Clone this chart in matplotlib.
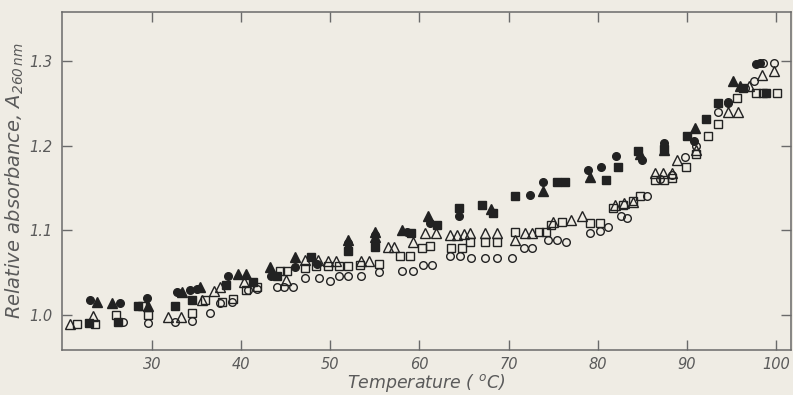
import matplotlib
matplotlib.use("Agg")
import matplotlib.pyplot as plt

# Melting profiles: relative absorbance at 260 nm vs temperature (°C)
fc_T = [23.0, 26.4, 29.4, 32.8, 34.3, 35.0, 38.5, 43.4, 46.0, 48.5, 52.0, 52.0, 55.0, 58.6, 61.2,
        64.5, 68.3, 72.4, 73.9, 78.9, 80.4, 82.1, 85.0, 87.5, 90.8, 94.6, 97.8, 98.2]
fc_A = [1.017, 1.014, 1.020, 1.027, 1.029, 1.030, 1.045, 1.046, 1.056, 1.060, 1.085, 1.078, 1.094, 1.098, 1.108,
        1.116, 1.120, 1.142, 1.157, 1.171, 1.174, 1.188, 1.183, 1.203, 1.205, 1.250, 1.296, 1.298]

ft_T = [23.8, 25.5, 29.6, 33.4, 35.4, 39.7, 40.6, 43.2, 46.0, 52.0, 55.0, 55.0, 58.0, 61.0,
        68.0, 73.9, 79.1, 84.8, 87.5, 90.9, 95.2, 96.0]
ft_A = [1.015, 1.014, 1.010, 1.027, 1.033, 1.048, 1.048, 1.056, 1.068, 1.088, 1.098, 1.092, 1.100, 1.116,
        1.125, 1.146, 1.163, 1.190, 1.195, 1.221, 1.276, 1.270]

fs_T = [22.9, 26.2, 28.4, 32.6, 34.5, 38.3, 41.3, 44.0, 47.8, 52.0, 55.0, 59.1, 62.0, 64.4, 67.0,
        68.3, 70.7, 75.4, 76.3, 80.9, 82.3, 84.5, 87.4, 90.0, 92.2, 93.5, 96.3, 98.9]
fs_A = [0.990, 0.991, 1.010, 1.010, 1.017, 1.035, 1.038, 1.045, 1.068, 1.075, 1.080, 1.097, 1.106, 1.126, 1.130,
        1.120, 1.140, 1.157, 1.157, 1.159, 1.175, 1.193, 1.196, 1.211, 1.231, 1.250, 1.268, 1.262]

oc_T = [26.7, 29.6, 32.6, 34.5, 36.5, 37.6, 39.0, 40.8, 41.8, 44.0, 44.8, 45.8, 47.2, 48.7, 50.0,
        51.0, 52.0, 53.5, 55.5, 58.0, 59.3, 60.4, 61.4, 63.4, 64.6, 65.8, 67.4, 68.7, 70.4, 71.7,
        72.6, 74.4, 75.4, 76.5, 79.1, 80.3, 81.2, 82.6, 83.3, 85.5, 87.0, 88.4, 89.8, 91.0, 93.5,
        94.6, 96.5, 97.5, 98.6, 99.8]
oc_A = [0.991, 0.990, 0.991, 0.992, 1.002, 1.014, 1.015, 1.029, 1.030, 1.032, 1.032, 1.032, 1.043, 1.043, 1.040,
        1.045, 1.045, 1.046, 1.050, 1.051, 1.051, 1.059, 1.059, 1.069, 1.069, 1.067, 1.067, 1.067, 1.067, 1.079,
        1.079, 1.088, 1.088, 1.086, 1.097, 1.099, 1.104, 1.116, 1.114, 1.140, 1.160, 1.165, 1.187, 1.200, 1.240,
        1.252, 1.268, 1.276, 1.298, 1.298]

ot_T = [20.8, 23.4, 31.8, 33.3, 35.6, 36.9, 37.6, 40.3, 45.0, 47.2, 48.6, 49.8, 50.6, 53.5, 54.3,
        56.5, 57.2, 59.3, 60.6, 61.9, 63.4, 64.2, 65.0, 65.7, 67.4, 68.7, 70.7, 71.8, 72.6, 75.0,
        77.0, 78.2, 82.0, 83.0, 84.0, 86.4, 87.3, 88.3, 88.9, 91.0, 94.6, 95.8, 97.0, 98.4, 99.8]
ot_A = [0.989, 0.998, 0.997, 0.997, 1.017, 1.028, 1.032, 1.039, 1.041, 1.065, 1.065, 1.063, 1.063, 1.063, 1.063,
        1.080, 1.080, 1.086, 1.097, 1.097, 1.094, 1.094, 1.095, 1.097, 1.097, 1.097, 1.088, 1.097, 1.097, 1.110,
        1.112, 1.116, 1.130, 1.132, 1.133, 1.167, 1.167, 1.167, 1.183, 1.195, 1.240, 1.240, 1.270, 1.284, 1.288]

os_T = [21.6, 23.6, 26.0, 28.9, 29.6, 34.5, 36.0, 37.8, 39.1, 40.5, 41.8, 44.4, 45.2, 47.2, 48.4,
        49.8, 51.0, 52.0, 53.3, 55.5, 57.8, 59.0, 60.3, 61.2, 63.5, 64.8, 65.7, 67.4, 68.7, 70.7,
        73.4, 74.2, 74.8, 76.0, 79.1, 80.3, 81.7, 82.8, 84.0, 84.8, 86.4, 87.5, 88.4, 89.9, 91.0,
        92.4, 93.5, 95.6, 97.8, 98.6, 100.1]
os_A = [0.989, 0.989, 1.000, 1.010, 1.000, 1.002, 1.017, 1.015, 1.018, 1.029, 1.032, 1.051, 1.051, 1.055, 1.057,
        1.057, 1.058, 1.058, 1.059, 1.060, 1.069, 1.069, 1.079, 1.081, 1.079, 1.079, 1.086, 1.086, 1.086, 1.098,
        1.098, 1.098, 1.106, 1.110, 1.108, 1.108, 1.126, 1.130, 1.134, 1.140, 1.159, 1.159, 1.161, 1.175, 1.190,
        1.211, 1.225, 1.256, 1.262, 1.262, 1.262]

x_ticks = [30, 40, 50, 60, 70, 80, 90, 100]
y_ticks = [1.0, 1.1, 1.2, 1.3]
y_ticklabels = ["1.0", "1.1", "1.2", "1.3"]

paper = "#efece4"
ink = "#222222"
grey = "#5a5a5a"

plt.rcParams["font.family"] = ["DejaVu Sans"]
plt.rcParams["mathtext.fontset"] = "custom"
plt.rcParams["mathtext.rm"] = "DejaVu Sans:italic"
plt.rcParams["mathtext.it"] = "DejaVu Sans:italic"

fig = plt.figure(figsize=(7.93, 3.95), dpi=100, facecolor=paper)
ax = fig.add_axes([0.0782, 0.1139, 0.9193, 0.8557], facecolor=paper)

ms = 6.0
common = dict(linestyle="none", markeredgecolor=ink, markeredgewidth=1.0)
ax.plot(oc_T, oc_A, marker="o", markerfacecolor="none", markersize=ms - 0.5, **common)
ax.plot(os_T, os_A, marker="s", markerfacecolor="none", markersize=ms - 0.5, **common)
ax.plot(ot_T, ot_A, marker="^", markerfacecolor="none", markersize=ms + 0.5, **common)
ax.plot(fc_T, fc_A, marker="o", markerfacecolor=ink, markersize=ms - 0.5, **common)
ax.plot(fs_T, fs_A, marker="s", markerfacecolor=ink, markersize=ms - 0.5, **common)
ax.plot(ft_T, ft_A, marker="^", markerfacecolor=ink, markersize=ms + 0.5, **common)

ax.set_xlim(19.9, 101.7)
ax.set_ylim(0.958, 1.358)
ax.set_xticks(x_ticks)
ax.set_yticks(y_ticks)
ax.set_yticklabels(y_ticklabels)

for s in ax.spines.values():
    s.set_color("#6a6a6a")
    s.set_linewidth(1.1)

ax.tick_params(direction="in", top=True, right=True, length=7.5, width=1.0,
               color="#6a6a6a", labelcolor=grey, labelsize=10.5, pad=7)
ax.tick_params(axis="x", pad=5)
for lbl in ax.get_xticklabels() + ax.get_yticklabels():
    lbl.set_fontstyle("italic")

ax.set_xlabel(r"Temperature ( $^{o}$C)", fontsize=12.5, color=grey, style="italic", labelpad=0)
ax.set_ylabel(r"Relative absorbance, A$_{260\,nm}$", fontsize=14, color=grey, style="italic", labelpad=2)

fig.savefig("out.png", dpi=100, facecolor=paper)
